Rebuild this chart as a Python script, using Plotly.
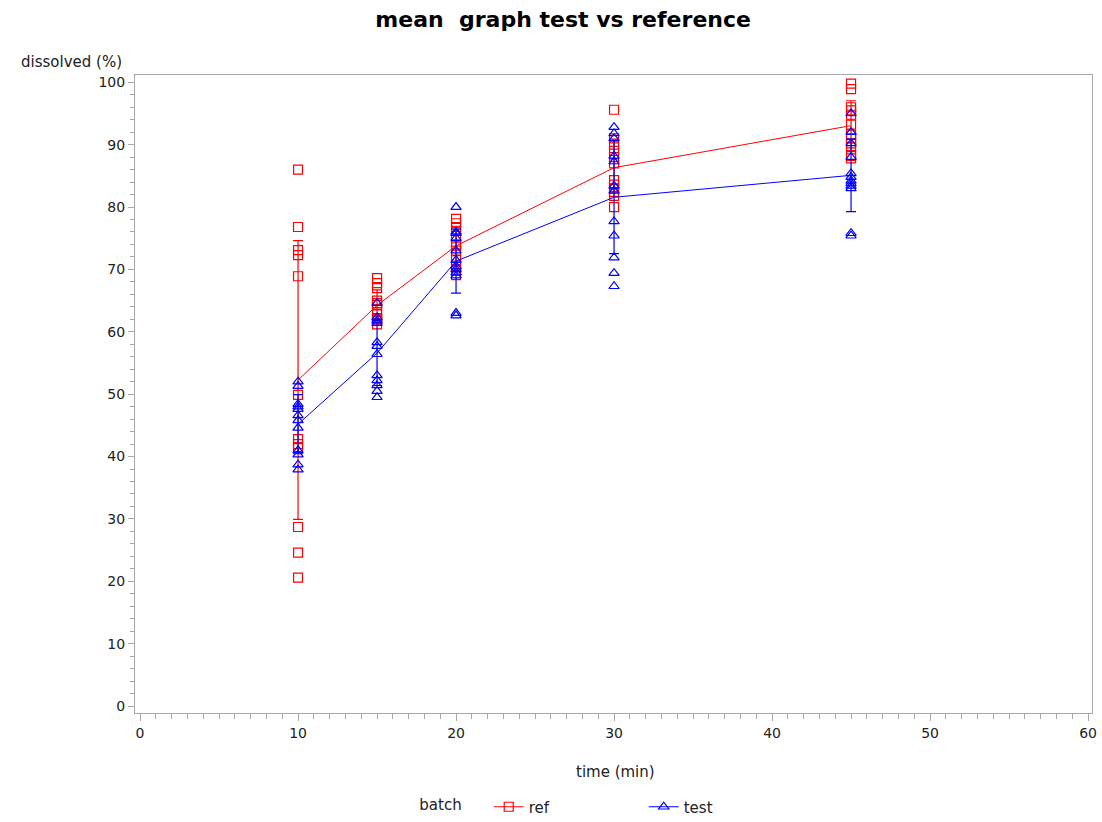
import numpy as np
import plotly.graph_objects as go

times = [10, 15, 20, 30, 45]

ref_values = {
    10: [86.0, 76.8, 73.1, 72.3, 68.9, 49.9, 42.8, 42.0, 41.5, 28.7, 24.6, 20.6],
    15: [68.6, 67.8, 67.0, 65.0, 64.6, 64.3, 63.6, 62.8, 62.2, 62.0, 61.8, 61.2],
    20: [78.1, 77.4, 76.8, 76.2, 75.0, 74.0, 73.8, 73.0, 71.5, 70.6, 69.8, 69.1],
    30: [95.6, 91.0, 90.0, 89.0, 88.0, 87.0, 84.3, 83.6, 83.0, 82.4, 81.8, 80.0],
    45: [99.8, 98.9, 96.0, 95.5, 94.8, 93.2, 91.6, 91.0, 90.2, 89.6, 88.2, 87.8],
}
test_values = {
    10: [52.0, 51.3, 48.4, 48.0, 47.6, 46.6, 45.8, 44.6, 41.0, 40.3, 38.7, 37.9],
    15: [64.6, 62.3, 61.8, 61.4, 58.3, 57.7, 56.4, 53.0, 52.2, 51.4, 50.5, 49.5],
    20: [80.0, 76.0, 75.8, 75.0, 73.0, 71.5, 70.5, 70.0, 69.5, 69.0, 63.0, 62.6],
    30: [92.8, 91.8, 91.0, 88.2, 87.3, 83.4, 82.6, 77.7, 75.4, 71.9, 69.4, 67.3],
    45: [95.0, 92.0, 90.2, 88.0, 85.4, 84.8, 84.2, 83.8, 83.4, 83.0, 75.8, 75.4],
}

batches = [
    ("ref", ref_values, "#FF0000", "square-open"),
    ("test", test_values, "#0000FF", "triangle-up-open"),
]

FONT = "DejaVu Sans, Verdana, sans-serif"

fig = go.Figure()

for name, vals, color, symbol in batches:
    xs, ys = [], []
    for t in times:
        xs += [t] * len(vals[t])
        ys += vals[t]
    means = [float(np.mean(vals[t])) for t in times]
    sds = [float(np.std(vals[t], ddof=1)) for t in times]
    fig.add_trace(go.Scatter(
        x=xs, y=ys, mode="markers", showlegend=False,
        marker=dict(symbol=symbol, size=9, color=color, line=dict(width=1.2, color=color)),
        hoverinfo="skip",
    ))
    fig.add_trace(go.Scatter(
        x=times, y=means, mode="lines", showlegend=False,
        line=dict(color=color, width=1),
        error_y=dict(type="data", array=sds, visible=True, color=color, thickness=1.2, width=5),
    ))
    fig.add_trace(go.Scatter(
        x=[None], y=[None], mode="lines+markers", name=name,
        line=dict(color=color, width=1),
        marker=dict(symbol=symbol, size=9, color=color, line=dict(width=1.2, color=color)),
    ))

axis_color = "#A8A8A8"
tick_font = dict(family=FONT, size=14, color="#222222")

fig.update_layout(
    width=1102, height=822,
    margin=dict(l=135, r=10, t=75, b=109),
    paper_bgcolor="white", plot_bgcolor="white",
    title=dict(
        text="<b>mean  graph test vs reference</b>",
        x=0.511, xanchor="center", y=0.977, yanchor="middle",
        font=dict(family=FONT, size=22, color="#000000"),
    ),
    showlegend=True,
    legend=dict(
        orientation="h", xref="container", yref="container",
        x=0.552, xanchor="center", y=1 - 807 / 822, yanchor="middle",
        title=dict(text="batch    ", font=dict(family=FONT, size=15, color="#222222")),
        font=dict(family=FONT, size=15, color="#222222"),
        entrywidth=110, entrywidthmode="pixels", traceorder="normal",
        bgcolor="rgba(0,0,0,0)",
    ),
    xaxis=dict(
        range=[-0.32, 60.25], tickmode="array", tickvals=[0, 10, 20, 30, 40, 50, 60],
        automargin=False,
        showgrid=False, zeroline=False,
        showline=True, linecolor=axis_color, linewidth=1, mirror=True,
        ticks="outside", ticklen=7, tickcolor=axis_color, tickwidth=1,
        tickfont=tick_font,
        minor=dict(dtick=1, ticks="outside", ticklen=5, tickcolor=axis_color, showgrid=False),
    ),
    yaxis=dict(
        range=[-1.12, 101.17], tickmode="array", tickvals=list(range(0, 101, 10)),
        automargin=False,
        showgrid=False, zeroline=False,
        showline=True, linecolor=axis_color, linewidth=1, mirror=True,
        ticks="outside", ticklen=6, tickcolor=axis_color, tickwidth=1,
        tickfont=tick_font,
        minor=dict(dtick=2, ticks="outside", ticklen=4, tickcolor=axis_color, showgrid=False),
    ),
    annotations=[
        dict(text="dissolved (%)", xref="paper", yref="paper", x=-0.0115, y=1.003,
             xanchor="right", yanchor="bottom", showarrow=False,
             font=dict(family=FONT, size=15, color="#222222")),
        dict(text="time (min)", xref="paper", yref="paper", x=0.502, y=-0.092,
             xanchor="center", yanchor="middle", showarrow=False,
             font=dict(family=FONT, size=15, color="#222222")),
    ],
)

fig.write_html("out.html")
